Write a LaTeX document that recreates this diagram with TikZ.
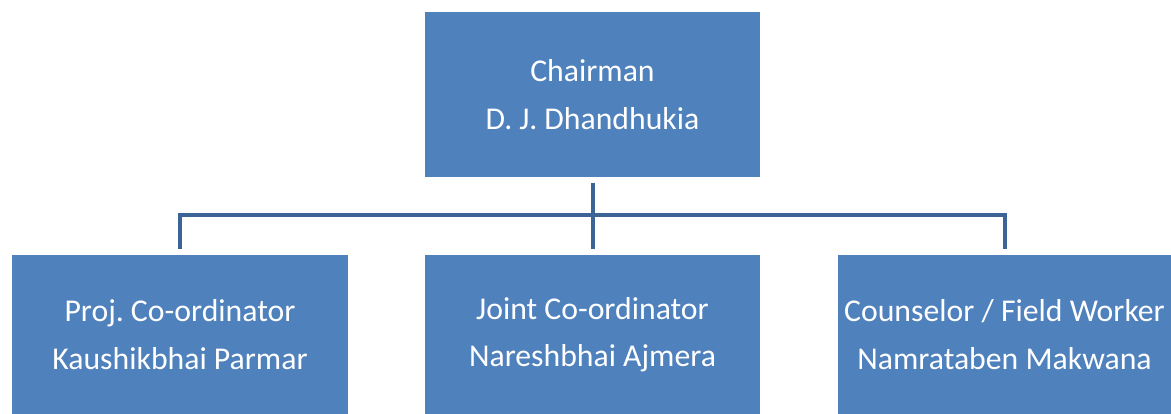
\documentclass[tikz,border=0pt]{standalone}
\usepackage{fontspec}
\setmainfont{Carlito}
\usepackage{tikz}
\usetikzlibrary{positioning}
\usepackage{xcolor}
\definecolor{boxblue}{RGB}{79,129,189}
\definecolor{lineblue}{RGB}{60,100,150}
\frenchspacing

\begin{document}
\begin{tikzpicture}[x=0.75pt,y=-0.75pt]
                    \tikzstyle{post} = [
	shape=rectangle,
	fill=boxblue, %fill the space of the node
	text=white,
	font=\fontsize{23.8}{35.5}\selectfont,
	align=center,
	minimum width=251.5pt, %width of the boxes
	minimum height=119.25pt,
	inner sep=0pt
];
\tikzstyle{link} = [
	line width=3pt,
	color=lineblue
];

\useasboundingbox (0,0) rectangle (1171,414);

\begin{scope}
	\node[post, minimum height=123.75pt](Ch) at (592.5,94.5) {Chairman\\D. J. Dhandhukia};
\end{scope}

\begin{scope}
	\node[post](Pc) at (180,334.5) {Proj. Co-ordinator\\Kaushikbhai Parmar};
	\node[post](Jc) at (592.5,334.5) {Joint Co-ordinator\\Nareshbhai Ajmera};
	\node[post, minimum width=250pt](Cf) at (1004.5,334.5) {Counselor / Field Worker\\Namrataben Makwana};
\end{scope}

\coordinate (J) at (592.5,215);

%from the chairman down
\draw[link, shorten <=4.5pt]
	(Ch.south) -- (Ch.south |- J)
;

%branches to the posts
\draw[link, shorten <=4.5pt, shorten >=4.5pt]
	(Pc.north) -- (Pc.north |- J) -- (Cf.north |- J) -- (Cf.north)
;
\draw[link, shorten >=4.5pt]
	(Jc.north |- J) -- (Jc.north)
;

                \end{tikzpicture}
\end{document}
